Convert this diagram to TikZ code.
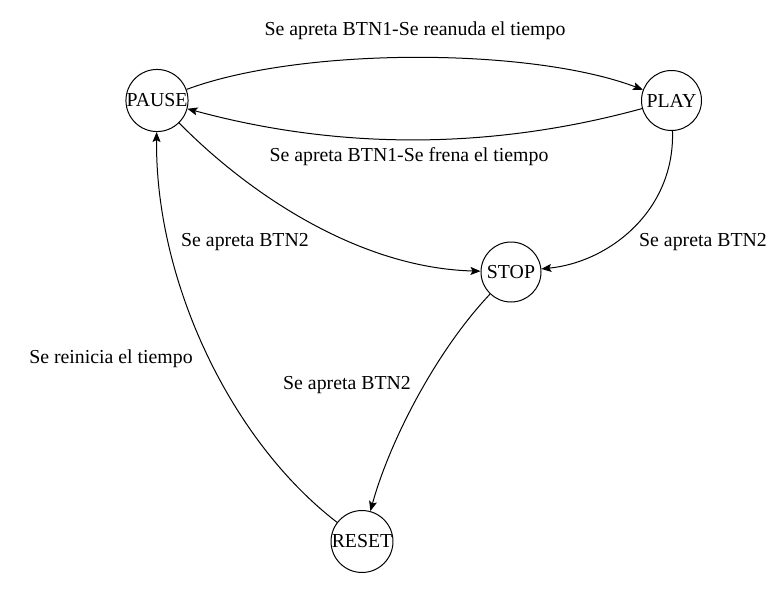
\documentclass[tikz,border=0pt]{standalone}
\usepackage{fontspec}
\newfontfamily\lserif{Liberation Serif}
\usetikzlibrary{arrows.meta}
\begin{document}
\begin{tikzpicture}[x=1pt,y=-1pt,
  state/.style={circle,draw,line width=1pt,minimum size=60pt,inner sep=0pt,font=\lserif\fontsize{19.8}{22}\selectfont},
  lbl/.style={font=\lserif\fontsize{19.8}{22}\selectfont,inner sep=0pt},
  conn/.style={line width=1pt,-{Stealth[length=10pt,width=8pt,inset=2pt]}}]
\useasboundingbox (0,0) rectangle (777,592);
\node[state] (pause) at (157,100.5) {PAUSE};
\node[state] (play) at (671.5,100.5) {PLAY};
\node[state] (stop) at (511,272) {STOP};
\node[state] (reset) at (362,541.5) {RESET};
\draw[conn] (pause) .. controls (300,47) and (530,47) .. (play);
\draw[conn] (play) .. controls (491,150) and (339,150) .. (pause);
\draw[conn] (pause) .. controls (250,195) and (360,268) .. (stop);
\draw[conn] (play) .. controls (675,210) and (610,262) .. (stop);
\draw[conn] (stop) .. controls (437,350) and (390,440) .. (reset);
\draw[conn] (reset) .. controls (230,440) and (155,280) .. (pause);
\node[lbl] (l1) at (415,31) {Se apreta BTN1-Se reanuda el tiempo};
\node[lbl] (l2) at (409,157) {Se apreta BTN1-Se frena el tiempo};
\node[lbl] (l3) at (245,242) {Se apreta BTN2};
\node[lbl] (l4) at (703,242) {Se apreta BTN2};
\node[lbl] (l5) at (347,385) {Se apreta BTN2};
\node[lbl] (l6) at (111,359) {Se reinicia el tiempo};
\end{tikzpicture}
\end{document}
